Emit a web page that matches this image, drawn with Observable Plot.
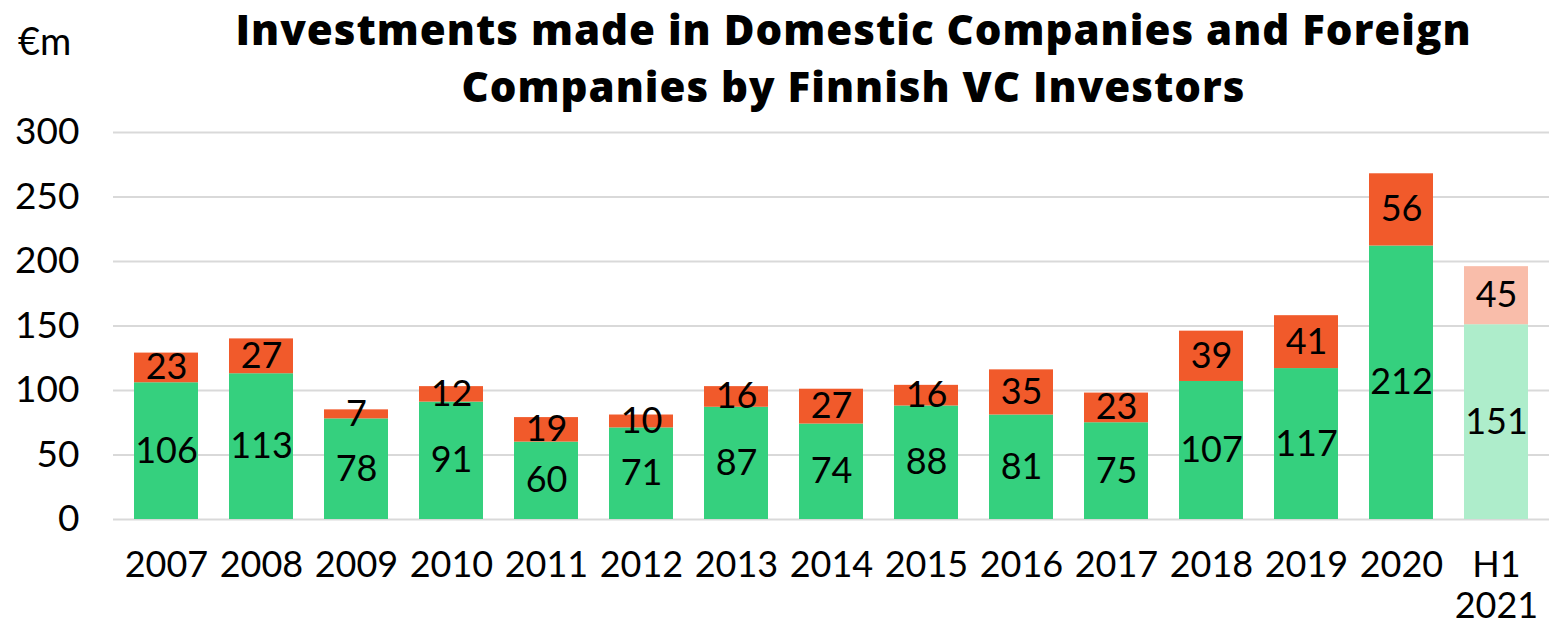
<!DOCTYPE html>
<html>
<head>
<meta charset="utf-8">
<script src="https://cdn.jsdelivr.net/npm/d3@7"></script>
<script src="https://cdn.jsdelivr.net/npm/@observablehq/plot@0.6"></script>
<style>
  html, body { margin: 0; padding: 0; background: #fff; }
  #wrap { position: relative; width: 1565px; height: 625px; overflow: hidden; font-family: Lato, sans-serif; }
  .tline { position: absolute; left: 0; width: 1565px; padding-left: 142px; box-sizing: border-box; text-align: center;
           font-family: "Open Sans", sans-serif; font-weight: 800; font-size: 42px; letter-spacing: 1px; line-height: 57px; height: 57px; color: #000; white-space: nowrap; }
  #t1 { top: 0px; }
  #t2 { top: 57px; }
  #unit { position: absolute; left: 18px; top: 17px; font-size: 38px; color: #000; }
  #chart { position: absolute; left: 0; top: 0; }
</style>
</head>
<body>
<div id="wrap">
  <div id="chart"></div>
  <div id="unit">€m</div>
  <div class="tline" id="t1">Investments made in Domestic Companies and Foreign</div>
  <div class="tline" id="t2">Companies by Finnish VC Investors</div>
</div>
<script>
const years = ["2007","2008","2009","2010","2011","2012","2013","2014","2015","2016","2017","2018","2019","2020","H1\n2021"];
const domestic = [106,113,78,91,60,71,87,74,88,81,75,107,117,212,151];
const foreign = [23,27,7,12,19,10,16,27,16,35,23,39,41,56,45];
const yTicks = [0,50,100,150,200,250,300];

const rows = [];
years.forEach((y, i) => rows.push({year: y, type: "Domestic", value: domestic[i], partial: y.startsWith("H1")}));
years.forEach((y, i) => rows.push({year: y, type: "Foreign", value: foreign[i], partial: y.startsWith("H1")}));

const colorOf = d => d.type === "Domestic" ? (d.partial ? "#aeedcb" : "#35d07e") : (d.partial ? "#f9bdaa" : "#f15a2b");

const chart = Plot.plot({
  width: 1565,
  height: 625,
  marginTop: 132,
  marginBottom: 106,
  marginLeft: 113,
  marginRight: 16,
  style: {fontFamily: "Lato, sans-serif", fontSize: "36px", color: "#000", background: "transparent"},
  x: {domain: years, paddingInner: 0.33, paddingOuter: 0.165, label: null},
  y: {domain: [0, 300], ticks: yTicks, label: null},
  marks: [
    Plot.gridY(yTicks, {stroke: "#d9d9d9", strokeOpacity: 1, strokeWidth: 2}),
    Plot.axisY(yTicks, {tickSize: 0, tickPadding: 34, fontSize: 37, label: null}),
    Plot.axisX({tickSize: 0, tickPadding: 28, fontSize: 36, lineHeight: 1.14, label: null}),
    Plot.barY(rows, {x: "year", y: "value", z: "type", fill: colorOf, order: null}),
    Plot.text(rows, Plot.stackY({x: "year", y: "value", z: "type", text: d => String(d.value), fill: "#000", fontSize: 36, order: null}))
  ]
});
document.getElementById("chart").appendChild(chart);
</script>
</body>
</html>
